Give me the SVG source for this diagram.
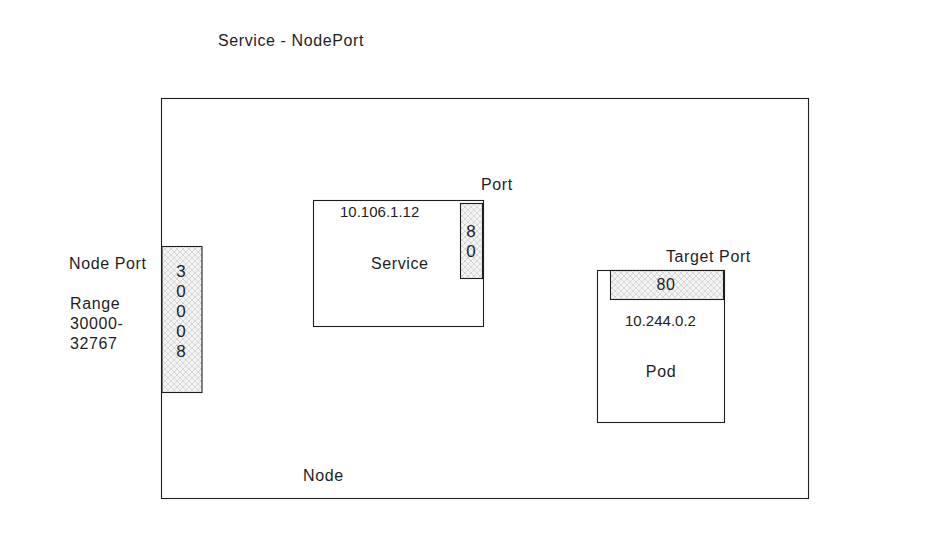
<svg xmlns="http://www.w3.org/2000/svg" width="944" height="536" viewBox="0 0 944 536">
<style>
.t{font-family:"Liberation Sans",Arial,sans-serif;font-size:15px;fill:#1e1e1e}
.w{font-size:16px;letter-spacing:0.6px}
.d{font-size:17px}
.c{text-anchor:middle}
.box{fill:none;stroke:#1e1e1e;stroke-width:1.1}
.hatch{fill:url(#hx);stroke:#1e1e1e;stroke-width:1.1}
</style>
<defs>
<pattern id="hx" width="6" height="6" patternUnits="userSpaceOnUse">
<rect width="6" height="6" fill="#f4f4f4"/>
<path d="M0 0L6 6M6 0L0 6" stroke="#c8c8c8" stroke-width="0.7"/>
</pattern>
</defs>
<rect width="944" height="536" fill="#fff"/>
<text class="t w" x="218" y="46">Service - NodePort</text>
<g id="node">
<rect class="box" x="161.5" y="98.5" width="647" height="400"/>
<text class="t w" x="303" y="481">Node</text>
</g>
<g id="nodeport">
<rect class="hatch" x="162" y="246.5" width="40" height="146"/>
<text class="t c d" x="181" y="277">3</text>
<text class="t c d" x="181" y="297">0</text>
<text class="t c d" x="181" y="317">0</text>
<text class="t c d" x="181" y="337">0</text>
<text class="t c d" x="181" y="357">8</text>
<text class="t w" x="69" y="269">Node Port</text>
<text class="t w" x="70" y="309">Range</text>
<text class="t w" x="70" y="329">30000-</text>
<text class="t w" x="70" y="349">32767</text>
</g>
<g id="service">
<rect class="box" x="313.5" y="200.5" width="170" height="126"/>
<text class="t" x="340" y="217">10.106.1.12</text>
<text class="t w" x="371" y="269">Service</text>
</g>
<g id="port">
<rect class="hatch" x="460.5" y="203.5" width="22" height="75"/>
<text class="t c d" x="471" y="237">8</text>
<text class="t c d" x="471" y="257">0</text>
<text class="t w" x="481" y="190">Port</text>
</g>
<g id="pod">
<rect class="box" x="597.5" y="270.5" width="127" height="152"/>
<text class="t" x="625" y="326">10.244.0.2</text>
<text class="t c w" x="661" y="377">Pod</text>
</g>
<g id="targetport">
<rect class="hatch" x="610.5" y="270.5" width="113" height="29"/>
<text class="t c w" x="666" y="290">80</text>
<text class="t w" x="666" y="262">Target Port</text>
</g>
<g id="connectors"></g>
</svg>
